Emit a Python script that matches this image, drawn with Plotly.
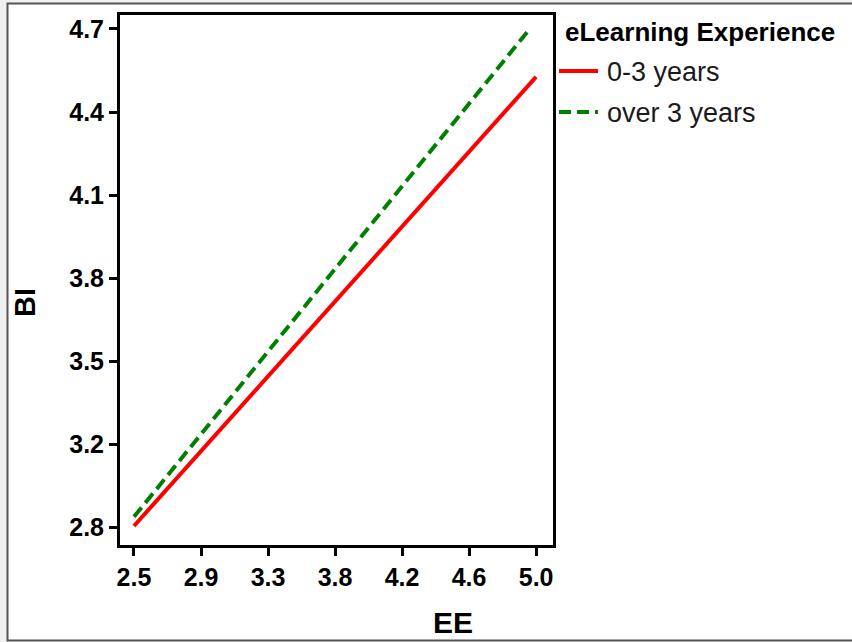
import plotly.graph_objects as go

# Fitted BI lines over the EE range, one per experience group
ee_0_3 = [2.5, 5.0]
bi_0_3 = [2.846, 4.521]
ee_over_3 = [2.5, 4.96]
bi_over_3 = [2.880, 4.700]

group_names = ["0-3 years", "over 3 years"]
group_colors = ["#ff0000", "#008000"]
legend_title = "eLearning Experience"

x_tickvals = [2.5, 2.9167, 3.3333, 3.75, 4.1667, 4.5833, 5.0]
x_ticktext = ["2.5", "2.9", "3.3", "3.8", "4.2", "4.6", "5.0"]
y_tickvals = [2.84, 3.15, 3.46, 3.77, 4.08, 4.39, 4.70]
y_ticktext = ["2.8", "3.2", "3.5", "3.8", "4.1", "4.4", "4.7"]

FONT = "Liberation Sans, Arial, sans-serif"
W, H = 852, 642
L, R, T, B = 120, 553, 15, 545
DASH = "12px,6px"


def px_x(p):
    return (p - L) / (R - L)


def px_y(p):
    return (B - p) / (B - T)


fig = go.Figure()
fig.add_trace(go.Scatter(
    x=ee_0_3, y=bi_0_3, mode="lines", name=group_names[0],
    line=dict(color=group_colors[0], width=4),
))
fig.add_trace(go.Scatter(
    x=ee_over_3, y=bi_over_3, mode="lines", name=group_names[1],
    line=dict(color=group_colors[1], width=4, dash=DASH),
))

axis_common = dict(
    showline=True, linecolor="black", linewidth=3, mirror=True,
    ticks="outside", ticklen=8, tickwidth=3, tickcolor="black",
    showgrid=False, zeroline=False,
    tickfont=dict(family=FONT, size=25, color="black", weight="bold"),
)

# Outer frame of the figure
shapes = [dict(
    type="rect", xref="paper", yref="paper", layer="below",
    x0=px_x(7.5), x1=px_x(870), y0=px_y(640.5), y1=px_y(3.5),
    fillcolor="white", line=dict(color="#555555", width=2),
)]

annotations = [
    dict(text="EE", xref="paper", yref="paper", x=px_x(453), y=px_y(622),
         showarrow=False, xanchor="center", yanchor="middle",
         font=dict(family=FONT, size=30, color="black", weight="bold")),
    dict(text="BI", xref="paper", yref="paper", x=px_x(25), y=px_y(303),
         showarrow=False, xanchor="center", yanchor="middle", textangle=-90,
         font=dict(family=FONT, size=29, color="black", weight="bold")),
    dict(text=legend_title, xref="paper", yref="paper", x=px_x(563), y=px_y(32),
         showarrow=False, xanchor="left", yanchor="middle",
         font=dict(family=FONT, size=26, color="black", weight="bold")),
]

# Legend key: a line sample and a label per group
legend_rows = [71, 112]
for i, (name, color) in enumerate(zip(group_names, group_colors)):
    yy = px_y(legend_rows[i])
    shapes.append(dict(
        type="line", xref="paper", yref="paper",
        x0=px_x(559), x1=px_x(598), y0=yy, y1=yy,
        line=dict(color=color, width=4, dash=None if i == 0 else DASH),
    ))
    annotations.append(dict(
        text=name, xref="paper", yref="paper", x=px_x(605), y=px_y(legend_rows[i] + 1),
        showarrow=False, xanchor="left", yanchor="middle",
        font=dict(family=FONT, size=27, color="#1a1a1a"),
    ))

fig.update_layout(
    width=W, height=H,
    margin=dict(l=L, r=W - R, t=T, b=H - B),
    paper_bgcolor="#f0f0f0", plot_bgcolor="white",
    xaxis=dict(range=[2.413, 5.105], tickvals=x_tickvals, ticktext=x_ticktext, **axis_common),
    yaxis=dict(range=[2.775, 4.752], tickvals=y_tickvals, ticktext=y_ticktext, **axis_common),
    showlegend=False,
    shapes=shapes,
    annotations=annotations,
)

fig.write_html("out.html")
